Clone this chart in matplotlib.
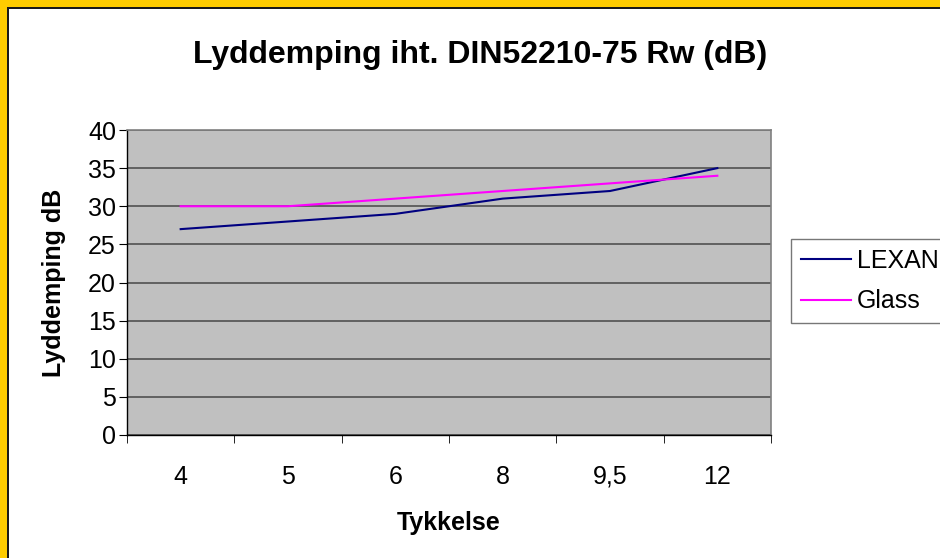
import matplotlib
matplotlib.use("Agg")
import matplotlib.pyplot as plt
from matplotlib.patches import Rectangle
import numpy as np

# Data
categories = ["4", "5", "6", "8", "9,5", "12"]
lexan = [27, 28, 29, 31, 32, 35]
glass = [30, 30, 31, 32, 33, 34]

plt.rcParams['font.family'] = ['Liberation Sans', 'DejaVu Sans']

fig = plt.figure(figsize=(9.4, 5.58), dpi=100)
fig.patch.set_facecolor('white')

# yellow frame with dark inner line (left and top only, rest is cut off)
fig.patches.append(Rectangle((0, 0), 7 / 940, 1, transform=fig.transFigure,
                             facecolor='#FFCC00', edgecolor='none', zorder=0))
fig.patches.append(Rectangle((0, 1 - 7 / 558), 1, 7 / 558, transform=fig.transFigure,
                             facecolor='#FFCC00', edgecolor='none', zorder=0))
fig.patches.append(Rectangle((7 / 940, 0), 2 / 940, 1 - 7 / 558, transform=fig.transFigure,
                             facecolor='#1a1a1a', edgecolor='none', zorder=0))
fig.patches.append(Rectangle((7 / 940, 1 - 9 / 558), 1, 2 / 558, transform=fig.transFigure,
                             facecolor='#1a1a1a', edgecolor='none', zorder=0))

ax = fig.add_axes([127 / 940, 1 - 435 / 558, 644 / 940, 305 / 558])
ax.set_facecolor('#C0C0C0')

x = np.arange(len(categories))
ax.plot(x, lexan, color='#000080', linewidth=1.5, label='LEXAN')
ax.plot(x, glass, color='#FF00FF', linewidth=1.5, label='Glass')

ax.set_xlim(-0.5, len(categories) - 0.5)
ax.set_ylim(0, 40)
ax.set_yticks(range(0, 41, 5))
ax.set_xticks(x)
ax.set_xticklabels(categories)
ax.set_xticks(np.arange(-0.5, len(categories), 1), minor=True)
ax.tick_params(axis='x', which='major', length=0, pad=35, labelsize=18)
ax.tick_params(axis='x', which='minor', length=6, direction='out', color='black')
ax.tick_params(axis='y', length=6, direction='out', labelsize=18, pad=2)
# align category labels on their baseline so "9,5" sits level with the rest
for lbl in ax.get_xticklabels():
    lbl.set_verticalalignment('baseline')

ax.grid(True, axis='y', color='#5a5a5a', linewidth=1.3)
ax.set_axisbelow(True)
for side in ['top', 'right']:
    ax.spines[side].set_color('#808080')
    ax.spines[side].set_linewidth(1.2)
for side in ['left', 'bottom']:
    ax.spines[side].set_color('black')
    ax.spines[side].set_linewidth(1.0)

ax.set_xlabel('Tykkelse', fontsize=18, fontweight='bold', labelpad=16)
ax.set_ylabel('Lyddemping dB', fontsize=18, fontweight='bold', labelpad=16)

fig.text(480 / 940, 1 - 55 / 558, 'Lyddemping iht. DIN52210-75 Rw (dB)',
         ha='center', va='center', fontsize=23, fontweight='bold')

leg = fig.legend(loc='upper left', bbox_to_anchor=(791 / 940, 1 - 239 / 558),
                 fontsize=18, frameon=True, fancybox=False, handlelength=2.0,
                 handletextpad=0.25, borderpad=0.4, labelspacing=0.65, borderaxespad=0)
leg.get_frame().set_edgecolor('#555555')
leg.get_frame().set_linewidth(1.0)

fig.savefig('out.png', dpi=100)
